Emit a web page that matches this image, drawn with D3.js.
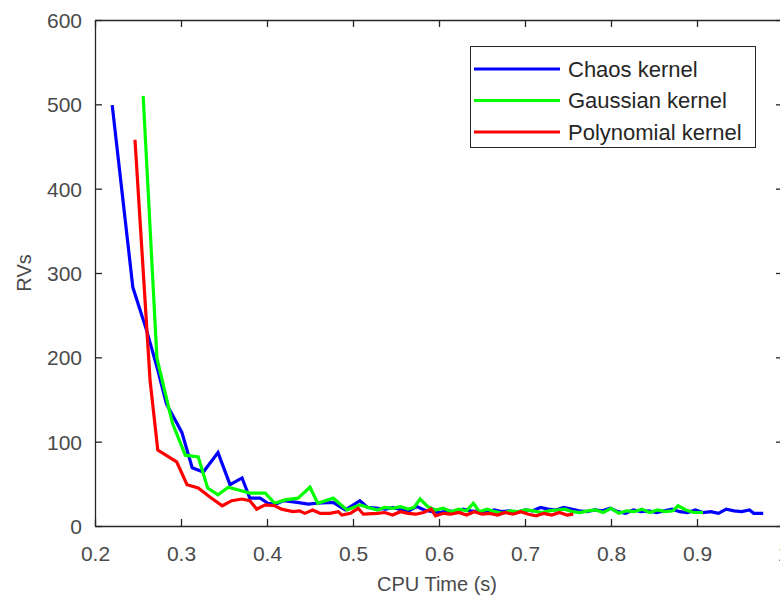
<!DOCTYPE html>
<html>
<head>
  <meta charset="utf-8">
  <script src="https://cdn.jsdelivr.net/npm/d3@7/dist/d3.min.js"></script>
  <style>
    body { margin: 0; background: #fff; }
    text { font-family: "Liberation Sans", Arial, Helvetica, sans-serif; }
  </style>
</head>
<body>
<script>
  // series: [CPU time (s), RVs]
  const chaos = [
    [0.220, 499], [0.244, 283], [0.260, 232], [0.273, 185], [0.283, 145], [0.301, 111],
    [0.313, 69], [0.326, 64], [0.343, 87], [0.357, 49], [0.371, 57], [0.380, 33],
    [0.392, 33], [0.401, 27], [0.410, 26], [0.419, 30], [0.435, 28], [0.448, 26],
    [0.458, 27], [0.477, 28], [0.491, 19], [0.508, 30], [0.517, 22], [0.529, 21],
    [0.538, 20], [0.547, 22], [0.556, 19], [0.565, 18], [0.574, 23], [0.583, 19],
    [0.592, 17], [0.601, 16], [0.610, 18], [0.619, 17], [0.628, 20], [0.637, 18],
    [0.646, 17], [0.655, 16], [0.664, 19], [0.673, 17], [0.682, 18], [0.691, 16],
    [0.700, 19], [0.709, 18], [0.718, 22], [0.727, 20], [0.736, 19], [0.745, 22],
    [0.754, 20], [0.763, 18], [0.772, 17], [0.781, 19], [0.790, 18], [0.799, 21],
    [0.808, 17], [0.817, 15], [0.826, 19], [0.835, 17], [0.844, 18], [0.853, 16],
    [0.862, 18], [0.871, 20], [0.880, 17], [0.889, 16], [0.898, 19], [0.907, 16],
    [0.916, 17], [0.925, 15], [0.934, 20], [0.943, 18], [0.952, 17], [0.961, 19],
    [0.966, 15], [0.977, 15]
  ];
  const gaussian = [
    [0.256, 510], [0.272, 199], [0.290, 122], [0.305, 84], [0.320, 82], [0.331, 45],
    [0.343, 37], [0.355, 46], [0.369, 42], [0.380, 39], [0.398, 39], [0.409, 27],
    [0.421, 31], [0.436, 33], [0.450, 46], [0.459, 27], [0.477, 33], [0.493, 19],
    [0.508, 25], [0.528, 19], [0.537, 22], [0.546, 21], [0.555, 23], [0.564, 20],
    [0.571, 22], [0.578, 32], [0.587, 23], [0.596, 19], [0.605, 21], [0.614, 17],
    [0.623, 20], [0.632, 18], [0.640, 27], [0.647, 17], [0.656, 20], [0.665, 17],
    [0.674, 15], [0.683, 18], [0.692, 17], [0.701, 19], [0.710, 18], [0.719, 16],
    [0.728, 18], [0.737, 19], [0.746, 20], [0.755, 17], [0.764, 16], [0.773, 18],
    [0.782, 19], [0.791, 16], [0.800, 21], [0.809, 15], [0.818, 18], [0.827, 17],
    [0.836, 20], [0.845, 16], [0.854, 19], [0.863, 17], [0.872, 18], [0.878, 24],
    [0.887, 19], [0.896, 16], [0.907, 16]
  ];
  const polynomial = [
    [0.2465, 458], [0.264, 173], [0.273, 90], [0.295, 76], [0.307, 49], [0.320, 45],
    [0.334, 34], [0.348, 24], [0.359, 30], [0.371, 32], [0.380, 30], [0.388, 20],
    [0.398, 25], [0.409, 24], [0.417, 20], [0.430, 17], [0.438, 18], [0.444, 15],
    [0.453, 19], [0.462, 15], [0.473, 15], [0.483, 17], [0.487, 13], [0.497, 15],
    [0.506, 21], [0.512, 14], [0.528, 15], [0.537, 16], [0.546, 13], [0.555, 17],
    [0.564, 15], [0.573, 14], [0.582, 16], [0.591, 20], [0.596, 12], [0.605, 15],
    [0.614, 14], [0.623, 16], [0.632, 13], [0.641, 17], [0.650, 14], [0.659, 15],
    [0.668, 13], [0.677, 16], [0.686, 14], [0.695, 17], [0.704, 14], [0.713, 12],
    [0.722, 15], [0.731, 13], [0.740, 16], [0.749, 13], [0.756, 14]
  ];

  const seriesNames = ["Chaos kernel", "Gaussian kernel", "Polynomial kernel"];
  const seriesColors = ["#0000ff", "#00ff00", "#ff0000"];
  const xTicks = [0.2, 0.3, 0.4, 0.5, 0.6, 0.7, 0.8, 0.9, 1];
  const yTicks = [0, 100, 200, 300, 400, 500, 600];

  const width = 780, height = 600;
  const plotLeft = 95, plotRight = 783, plotTop = 20, plotBottom = 526;
  const axisColor = "#262626", labelColor = "#4a4a4a";

  const svg = d3.select("body").append("svg")
    .attr("width", width)
    .attr("height", height);

  const x = d3.scaleLinear().domain([0.2, 1]).range([plotLeft, plotRight]);
  const y = d3.scaleLinear().domain([0, 600]).range([plotBottom, plotTop]);

  svg.append("clipPath").attr("id", "plot")
    .append("rect")
    .attr("x", plotLeft).attr("y", plotTop)
    .attr("width", plotRight - plotLeft).attr("height", plotBottom - plotTop);

  // lines
  const line = d3.line().x(d => x(d[0])).y(d => y(d[1]));
  [chaos, gaussian, polynomial].forEach((s, i) => {
    svg.append("path")
      .datum(s)
      .attr("clip-path", "url(#plot)")
      .attr("d", line)
      .attr("fill", "none")
      .attr("stroke", seriesColors[i])
      .attr("stroke-width", 3.2)
      .attr("stroke-linejoin", "miter");
  });

  // axes, ticks pointing inward (box on)
  const fmtX = d => d === 1 ? "1" : d.toFixed(1);
  const xAxis = svg.append("g")
    .attr("transform", `translate(0,${plotBottom})`)
    .call(d3.axisBottom(x).tickValues(xTicks).tickFormat(fmtX).tickSizeInner(-7).tickSizeOuter(0).tickPadding(0));
  const xTop = svg.append("g")
    .attr("transform", `translate(0,${plotTop})`)
    .call(d3.axisTop(x).tickValues(xTicks).tickFormat("").tickSizeInner(-7).tickSizeOuter(0));
  const yAxis = svg.append("g")
    .attr("transform", `translate(${plotLeft},0)`)
    .call(d3.axisLeft(y).tickValues(yTicks).tickSizeInner(-7).tickSizeOuter(0).tickPadding(13));
  const yRight = svg.append("g")
    .attr("transform", `translate(${plotRight},0)`)
    .call(d3.axisRight(y).tickValues(yTicks).tickFormat("").tickSizeInner(-7).tickSizeOuter(0));

  [xAxis, xTop, yAxis, yRight].forEach(g => {
    g.select(".domain").attr("stroke", axisColor).attr("stroke-width", 1.3);
    g.selectAll(".tick line").attr("stroke", axisColor).attr("stroke-width", 1.3);
    g.selectAll(".tick text")
      .attr("fill", labelColor)
      .style("font-size", "21px")
      .style("font-family", "'Liberation Sans', Arial, sans-serif");
  });
  xAxis.selectAll(".tick text").attr("y", 35).attr("dy", 0);
  yAxis.selectAll(".tick text").attr("dy", "0.36em");

  // axis labels
  svg.append("text")
    .attr("x", (plotLeft + plotRight) / 2 - 2)
    .attr("y", 591)
    .attr("text-anchor", "middle")
    .attr("fill", labelColor)
    .style("font-size", "20px")
    .text("CPU Time (s)");

  svg.append("text")
    .attr("transform", `translate(31,${(plotTop + plotBottom) / 2}) rotate(-90)`)
    .attr("text-anchor", "middle")
    .attr("fill", labelColor)
    .style("font-size", "20px")
    .text("RVs");

  // legend
  const legend = svg.append("g");
  legend.append("rect")
    .attr("x", 470.5).attr("y", 46.5)
    .attr("width", 285).attr("height", 101)
    .attr("fill", "#fff")
    .attr("stroke", axisColor)
    .attr("stroke-width", 1);
  seriesNames.forEach((name, i) => {
    const ly = 69 + i * 31.5;
    legend.append("line")
      .attr("x1", 474).attr("x2", 560)
      .attr("y1", ly).attr("y2", ly)
      .attr("stroke", seriesColors[i])
      .attr("stroke-width", 3.2);
    legend.append("text")
      .attr("x", 568).attr("y", ly)
      .attr("dy", "0.36em")
      .attr("fill", "#262626")
      .style("font-size", "22px")
      .text(name);
  });
</script>
</body>
</html>
